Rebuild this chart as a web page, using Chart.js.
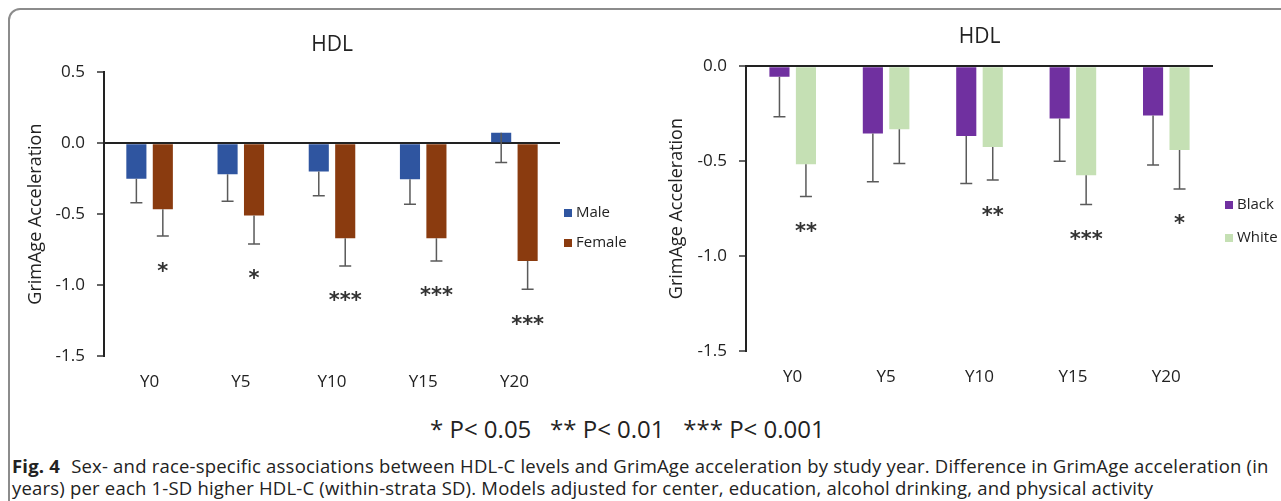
<!DOCTYPE html>
<html>
<head>
<meta charset="utf-8">
<script src="https://cdn.jsdelivr.net/npm/chart.js"></script>
<style>
body { margin: 0; width: 1281px; height: 501px; overflow: hidden; background: #fff; font-family: "Open Sans", sans-serif; position: relative; }
#cadre { position: absolute; left: 8px; top: 8px; width: 1300px; height: 520px; border: 2px solid #8c8c8c; border-radius: 12px; box-sizing: border-box; }
#boxSexe { position: absolute; left: 0; top: 0; }
#boxRace { position: absolute; left: 640px; top: 0; }
#signif { position: absolute; left: 430px; top: 413px; font-size: 24px; color: #222; white-space: pre; line-height: 32px; }
#legende { position: absolute; left: 12px; top: 455px; width: 1268px; font-size: 18.5px; letter-spacing: 0.2px; line-height: 22px; color: #222; }
#legende b { font-weight: 700; margin-right: 6px; }
</style>
</head>
<body>
<div id="cadre"></div>
<div id="boxSexe"><canvas id="graphique-sexe" width="660" height="400"></canvas></div>
<div id="boxRace"><canvas id="graphique-race" width="641" height="400"></canvas></div>
<div id="signif">* P&lt; 0.05   ** P&lt; 0.01   *** P&lt; 0.001</div>
<div id="legende"><b>Fig. 4</b> Sex- and race-specific associations between HDL-C levels and GrimAge acceleration by study year. Difference in GrimAge acceleration (in years) per each 1-SD higher HDL-C (within-strata SD). Models adjusted for center, education, alcohol drinking, and physical activity</div>

<script>
//-------------------------- Les données ---------------------------------------------
const annees = ['Y0', 'Y5', 'Y10', 'Y15', 'Y20'];

const hommes = [-0.25, -0.22, -0.20, -0.255, 0.073];
const hommesErr = [0.17, 0.19, 0.17, 0.175, 0.21];
const femmes = [-0.465, -0.51, -0.67, -0.67, -0.83];
const femmesErr = [0.19, 0.20, 0.195, 0.16, 0.20];
const etoilesSexe = ['*', '*', '***', '***', '***'];

const noirs = [-0.056, -0.354, -0.368, -0.275, -0.26];
const noirsErr = [0.21, 0.255, 0.25, 0.225, 0.26];
const blancs = [-0.516, -0.332, -0.425, -0.574, -0.442];
const blancsErr = [0.17, 0.18, 0.175, 0.155, 0.205];
const etoilesRace = ['**', '', '**', '***', '*'];

const ticksSexe = [0.5, 0.0, -0.5, -1.0, -1.5];
const ticksRace = [0.0, -0.5, -1.0, -1.5];

// ---------------------------- Plugins : barres d'erreur, étoiles, légende ------------------------------------
const pluginErreurs = {
    id: 'erreurs',
    afterDatasetsDraw(chart) {
        const ctx = chart.ctx;
        const y = chart.scales.y;
        ctx.save();
        chart.data.datasets.forEach((ds, d) => {
            const meta = chart.getDatasetMeta(d);
            meta.data.forEach((bar, i) => {
                const y1 = y.getPixelForValue(ds.data[i]);
                const y2 = y.getPixelForValue(ds.data[i] - ds.erreurs[i]);
                ctx.strokeStyle = '#5a5a5a';
                ctx.lineWidth = 1.5;
                ctx.beginPath();
                ctx.moveTo(bar.x, y1);
                ctx.lineTo(bar.x, y2);
                ctx.moveTo(bar.x - 6, y2);
                ctx.lineTo(bar.x + 6, y2);
                ctx.stroke();
                if (ds.etoiles && ds.etoiles[i]) {
                    ctx.fillStyle = '#333';
                    ctx.font = 'bold 21px "DejaVu Sans"';
                    ctx.textAlign = 'center';
                    ctx.textBaseline = 'middle';
                    ctx.fillText(ds.etoiles[i], bar.x, y2 + 36);
                }
            });
        });
        ctx.restore();
    }
};

const pluginLegende = {
    id: 'legendeMaison',
    afterDraw(chart, args, opts) {
        const ctx = chart.ctx;
        ctx.save();
        chart.data.datasets.forEach((ds, d) => {
            const yy = opts.y + d * opts.pas;
            ctx.fillStyle = ds.backgroundColor;
            ctx.fillRect(opts.x, yy - 4, 8, 8);
            ctx.fillStyle = '#222';
            ctx.font = '15px "Open Sans"';
            ctx.textAlign = 'left';
            ctx.textBaseline = 'middle';
            ctx.fillText(ds.label, opts.x + 12, yy);
        });
        ctx.restore();
    }
};

//----------------------------Fonction pour créer un graphique ----------------------------
function creerGraphique(id, config) {
    const ctx = document.getElementById(id);
    return new Chart(ctx, {
        type: 'bar',
        data: {
            labels: annees,
            datasets: [
                {
                    label: config.noms[0],
                    data: config.serie1,
                    erreurs: config.err1,
                    backgroundColor: config.couleurs[0],
                    categoryPercentage: config.catPct,
                    barPercentage: 0.76
                },
                {
                    label: config.noms[1],
                    data: config.serie2,
                    erreurs: config.err2,
                    etoiles: config.etoiles,
                    backgroundColor: config.couleurs[1],
                    categoryPercentage: config.catPct,
                    barPercentage: 0.76
                }
            ]
        },
        options: {
            responsive: false,
            animation: false,
            layout: { padding: config.padding },
            plugins: {
                legend: { display: false },
                tooltip: { enabled: false },
                title: {
                    display: true,
                    text: 'HDL',
                    fullSize: false,
                    color: '#222',
                    font: { family: 'Open Sans', size: 21, weight: 'normal' },
                    padding: config.titrePadding
                },
                legendeMaison: config.legende
            },
            scales: {
                x: {
                    grid: { display: false, drawTicks: false },
                    border: { display: false },
                    ticks: { color: '#222', font: { family: 'Open Sans', size: 17 }, padding: config.padX },
                    afterFit: scale => { scale.height = config.hautX; }
                },
                y: {
                    min: config.ticks[config.ticks.length - 1],
                    max: config.ticks[0],
                    afterBuildTicks: scale => { scale.ticks = config.ticks.map(v => ({ value: v })); },
                    grid: {
                        color: c => (c.tick && c.tick.value === 0 ? '#222' : 'rgba(0,0,0,0)'),
                        lineWidth: 2,
                        tickColor: '#333',
                        tickLength: 7,
                        tickWidth: 1.5
                    },
                    border: { display: true, color: '#222', width: 2 },
                    ticks: {
                        color: '#222',
                        font: { family: 'Open Sans', size: 17 },
                        padding: 12,
                        callback: v => v.toFixed(1)
                    },
                    title: {
                        display: true,
                        text: 'GrimAge Acceleration',
                        color: '#222',
                        font: { family: 'Open Sans', size: 18 },
                        padding: { top: config.titreY, bottom: 0 }
                    },
                    afterFit: scale => { scale.width = config.largY; }
                }
            }
        },
        plugins: [pluginErreurs, pluginLegende]
    });
}

creerGraphique('graphique-sexe', {
    noms: ['Male', 'Female'],
    serie1: hommes, err1: hommesErr,
    serie2: femmes, err2: femmesErr,
    etoiles: etoilesSexe,
    couleurs: ['#2f55a0', '#8a3b0f'],
    catPct: 0.58,
    ticks: ticksSexe,
    padding: { left: 0, right: 100, top: 0, bottom: 0 },
    titrePadding: { top: 32, bottom: 15 },
    padX: 16,
    hautX: 44,
    largY: 104,
    titreY: 25,
    legende: { x: 564, y: 213, pas: 30 }
});

creerGraphique('graphique-race', {
    noms: ['Black', 'White'],
    serie1: noirs, err1: noirsErr,
    serie2: blancs, err2: blancsErr,
    etoiles: etoilesRace,
    couleurs: ['#7030a0', '#c5e0b4'],
    catPct: 0.567,
    ticks: ticksRace,
    padding: { left: 0, right: 68, top: 0, bottom: 0 },
    titrePadding: { top: 24, bottom: 17 },
    padX: 16,
    hautX: 49,
    largY: 106,
    titreY: 26,
    legende: { x: 585, y: 205, pas: 33 }
});
</script>
</body>
</html>
